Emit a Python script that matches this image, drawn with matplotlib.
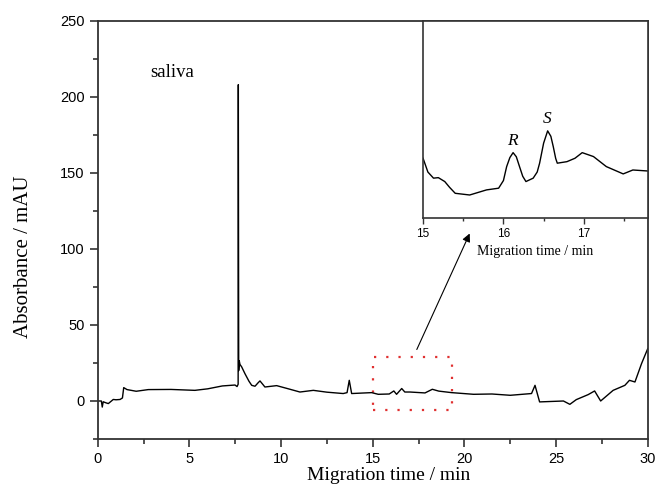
import numpy as np
import matplotlib.pyplot as plt
from matplotlib.patches import Rectangle
from matplotlib.ticker import MultipleLocator

# electropherogram of saliva sample
t_main = [0.0, 0.2, 0.25, 0.3, 0.45, 0.58, 0.75, 0.85, 1.0, 1.22, 1.35, 1.42,
          1.6, 2.1, 2.76, 4.0, 5.3, 6.0, 6.8, 7.49, 7.6, 7.66, 7.67, 7.69,
          7.72, 7.76, 7.85, 8.03, 8.25, 8.4, 8.58, 8.75, 8.85, 9.0, 9.12,
          9.76, 10.4, 11.03, 11.76, 12.5, 13.39, 13.6, 13.72, 13.85, 14.94,
          15.3, 15.9, 16.15, 16.3, 16.58, 16.75, 17.03, 17.85, 18.25, 18.6,
          19.3, 20.5, 21.5, 22.5, 23.66, 23.85, 24.1, 25.4, 25.75, 26.1,
          26.75, 27.1, 27.43, 28.11, 28.75, 29.0, 29.3, 29.66, 30.0]
a_main = [0.0, 0.0, -4.0, -0.5, -1.2, -1.7, 0.0, 1.0, 0.8, 1.0, 2.0, 8.8,
          7.5, 6.4, 7.5, 7.6, 7.0, 8.0, 9.9, 10.5, 9.5, 11.0, 208.0, 20.0,
          26.5, 24.0, 22.5, 18.0, 13.0, 10.3, 9.7, 12.0, 13.2, 11.0, 9.2,
          10.1, 8.0, 5.9, 7.0, 5.8, 4.9, 5.5, 13.6, 4.9, 5.5,
          4.4, 4.6, 6.6, 4.4, 8.2, 5.9, 5.9, 5.3, 7.7, 6.5,
          5.5, 4.4, 4.6, 3.75, 4.9, 10.3, -0.6, 0.0, -2.2, 0.9,
          4.2, 6.6, 0.0, 7.0, 10.3, 13.6, 12.5, 24.6, 34.5]

# enlarged part, 15 - 17.8 min
t_zoom = [15.0, 15.06, 15.13, 15.19, 15.27, 15.33, 15.40, 15.58, 15.79, 15.94,
          16.0, 16.04, 16.08, 16.12, 16.16, 16.20, 16.24, 16.28, 16.37, 16.42,
          16.45, 16.50, 16.55, 16.59, 16.62, 16.65, 16.67, 16.79, 16.89, 16.98,
          17.12, 17.28, 17.49, 17.61, 17.8]
a_zoom = [6.41, 5.6, 5.24, 5.27, 5.04, 4.7, 4.35, 4.25, 4.55, 4.65,
          5.1, 5.92, 6.45, 6.74, 6.5, 5.92, 5.35, 5.04, 5.24, 5.6,
          6.12, 7.3, 8.02, 7.7, 7.09, 6.4, 6.12, 6.21, 6.41, 6.74,
          6.51, 5.92, 5.49, 5.72, 5.66]

serif = 'Liberation Serif'
sans = 'Liberation Sans'

fig = plt.figure(figsize=(6.6, 4.92), dpi=100)
ax = fig.add_axes([0.148, 0.1077, 0.8335, 0.850])
ax.plot(t_main, a_main, color='black', lw=1.0)
ax.set_xlim(0, 30)
ax.set_ylim(-25, 250)
ax.xaxis.set_major_locator(MultipleLocator(5))
ax.xaxis.set_minor_locator(MultipleLocator(2.5))
ax.yaxis.set_major_locator(MultipleLocator(50))
ax.yaxis.set_minor_locator(MultipleLocator(25))
ax.tick_params(which='both', direction='out', width=1.2, color='#333333')
ax.tick_params(which='major', length=6, labelsize=10.5)
ax.tick_params(which='minor', length=3.5)
for lab in ax.get_xticklabels() + ax.get_yticklabels():
    lab.set_family(sans)
for s in ax.spines.values():
    s.set_linewidth(1.3)
    s.set_color('#333333')
ax.set_xlabel('Migration time / min', family=serif, fontsize=14)
ax.xaxis.set_label_coords(0.528, -0.068)
ax.set_ylabel('Absorbance / mAU', family=serif, fontsize=15)
ax.yaxis.set_label_coords(-0.117, 0.435)
ax.text(2.85, 216, 'saliva', family=serif, fontsize=13.5, va='center')

ax.add_patch(Rectangle((15, -6), 4.3, 35, fill=False, ec='#e03030',
                       lw=1.6, ls=(0, (1, 4.5))))
ax.annotate('', xy=(20.35, 111.8), xytext=(17.34, 32.2),
            arrowprops=dict(arrowstyle='-|>', color='black', lw=0.8,
                            mutation_scale=12))

ins = fig.add_axes([0.641, 0.557, 0.341, 0.401])
ins.plot(t_zoom, a_zoom, color='black', lw=1.0)
ins.set_xlim(15, 17.8)
ins.set_ylim(2.9, 14.5)
ins.set_yticks([])
ins.xaxis.set_major_locator(MultipleLocator(1))
ins.xaxis.set_minor_locator(MultipleLocator(0.5))
ins.tick_params(which='both', direction='out', width=1.0, color='#333333')
ins.tick_params(which='major', length=4, labelsize=8.5)
ins.tick_params(which='minor', length=2.5)
for lab in ins.get_xticklabels():
    lab.set_family(sans)
for s in ins.spines.values():
    s.set_linewidth(1.2)
    s.set_color('#333333')
ins.set_xlabel('Migration time / min', family=serif, fontsize=10, labelpad=3)
ins.text(16.11, 7.2, 'R', family=serif, style='italic', fontsize=12.5, ha='center')
ins.text(16.55, 8.5, 'S', family=serif, style='italic', fontsize=12.5, ha='center')

fig.savefig('out.png', dpi=100)
